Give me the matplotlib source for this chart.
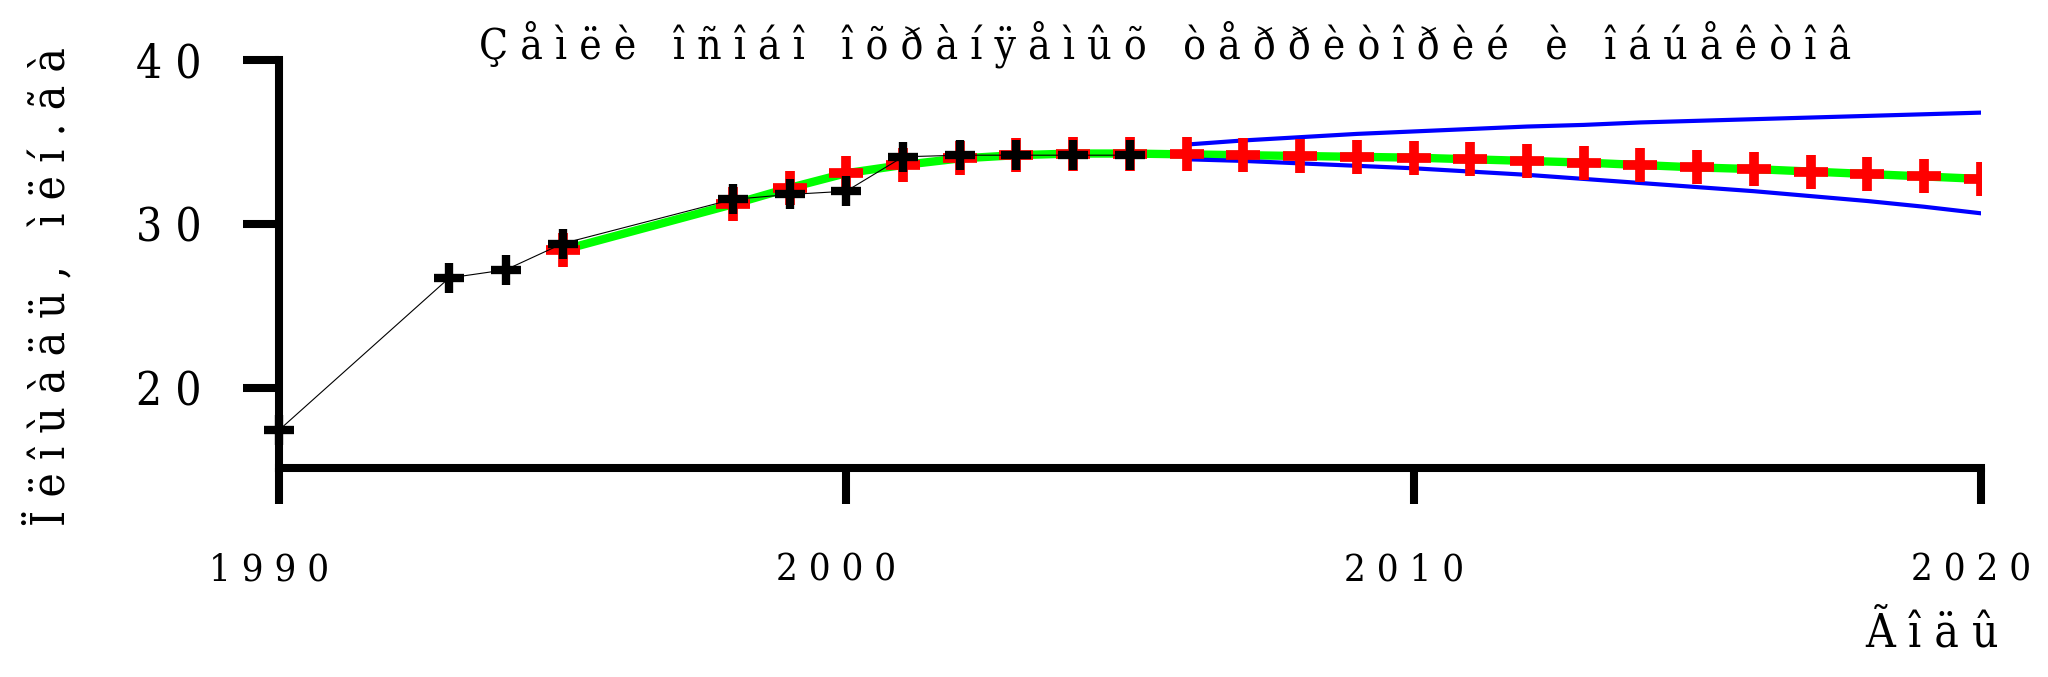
#!/usr/bin/env python3
"""Area of specially protected lands: observed values, model fit and forecast band."""

import matplotlib
matplotlib.use("Agg")
import matplotlib.pyplot as plt
import matplotlib.transforms as mtransforms
from matplotlib import font_manager as fm

# observed values (black crosses)
years_obs = [1990, 1993, 1994, 1995, 1998, 1999, 2000, 2001, 2002, 2003, 2004, 2005]
area_obs = [17.4, 26.7, 27.2, 28.8, 31.5, 31.8, 32.0, 34.1, 34.2, 34.2, 34.2, 34.2]

# model values (red crosses + green line)
years_model = [1995, 1998, 1999, 2000, 2001, 2002, 2003, 2004, 2005, 2006, 2007, 2008,
               2009, 2010, 2011, 2012, 2013, 2014, 2015, 2016, 2017, 2018, 2019, 2020]
area_model = [28.4, 31.2, 32.2, 33.1, 33.6, 34.0, 34.2, 34.3, 34.3, 34.25, 34.2, 34.15,
              34.1, 34.05, 33.95, 33.85, 33.75, 33.6, 33.45, 33.35, 33.2, 33.05, 32.9, 32.75]

# forecast band (blue lines)
years_fc = [2006, 2007, 2008, 2009, 2010, 2011, 2012, 2013, 2014, 2015, 2016, 2017, 2018, 2019, 2020]
upper_fc = [34.85, 35.1, 35.3, 35.5, 35.65, 35.8, 35.95, 36.05, 36.2, 36.3, 36.4, 36.5, 36.6, 36.7, 36.8]
lower_fc = [33.95, 33.85, 33.7, 33.55, 33.4, 33.2, 33.0, 32.75, 32.5, 32.25, 32.0, 31.7, 31.4, 31.05, 30.65]

x_ticks = [1990, 2000, 2010, 2020]
y_ticks = [20, 30, 40]

title = "Çåìëè îñîáî îõðàíÿåìûõ òåððèòîðèé è îáúåêòîâ"
y_label = "Ïëîùàäü, ìëí.ãà"
x_label = "Ãîäû"


def spaced(s):
    # the source draws text with wide letter spacing
    return " ".join(s)


def pick_font():
    best, best_rank = None, 99
    for f in fm.fontManager.ttflist:
        if f.style != "normal" or f.weight not in (400, "normal", "regular"):
            continue
        fname = f.fname.lower()
        narrow = "condensed" in fname or "narrow" in fname
        if not narrow or "semicondensed" in fname:
            continue
        rank = 4
        if "serif" in f.name.lower() and "extracondensed" in fname:
            rank = 0
        elif "serif" in f.name.lower():
            rank = 1
        elif "extracondensed" in fname:
            rank = 2
        elif "condensed" in fname:
            rank = 3
        if rank < best_rank:
            best, best_rank = f.fname, rank
    if best:
        return lambda size: fm.FontProperties(fname=best, size=size)
    return lambda size: fm.FontProperties(family="Liberation Serif", size=size)


font = pick_font()

fig = plt.figure(figsize=(20.48, 6.77), dpi=100)
ax = fig.add_axes([0.1362, 0.309, 0.831, 0.602])

ax.plot(years_model, area_model, color="#00ff00", linewidth=6, zorder=2)
ax.plot(years_fc, upper_fc, color="#0000ff", linewidth=3, zorder=2)
ax.plot(years_fc, lower_fc, color="#0000ff", linewidth=3, zorder=2)
ax.plot(years_model, area_model, linestyle="none", marker="+", markersize=25,
        markeredgewidth=7, color="#ff0000", zorder=3)
ax.plot(years_obs, area_obs, color="black", linewidth=0.8, marker="+", markersize=22,
        markeredgewidth=6, zorder=4, clip_on=False)

ax.set_xlim(1990, 2020)
ax.set_ylim(15.1, 40)

for side in ("top", "right"):
    ax.spines[side].set_visible(False)
for side in ("left", "bottom"):
    ax.spines[side].set_linewidth(5.8)
    ax.spines[side].set_capstyle("projecting")

ax.set_xticks(x_ticks)
ax.set_xticklabels([spaced(str(v)) for v in x_ticks], fontproperties=font(27.5))
ax.set_yticks(y_ticks)
ax.set_yticklabels([spaced(str(v)) for v in y_ticks], fontproperties=font(33))
ax.tick_params(axis="both", direction="out", length=26, width=5.8, color="black")
ax.tick_params(axis="x", pad=35)
ax.tick_params(axis="y", pad=30)

# year labels sit a little left of their ticks in the source
shift = mtransforms.ScaledTranslation(-7 / 72, 0, fig.dpi_scale_trans)
for lab in ax.get_xticklabels():
    lab.set_transform(lab.get_transform() + shift)

fig.text(0.569, 0.913, spaced(title), ha="center", va="baseline", fontproperties=font(30.5))
fig.text(0.024, 0.577, spaced(y_label), ha="center", va="center", rotation=90,
         fontproperties=font(33))
fig.text(0.976, 0.045, spaced(x_label), ha="right", va="baseline", fontproperties=font(33))

fig.savefig("out.png", dpi=100, facecolor="white")
plt.close(fig)
